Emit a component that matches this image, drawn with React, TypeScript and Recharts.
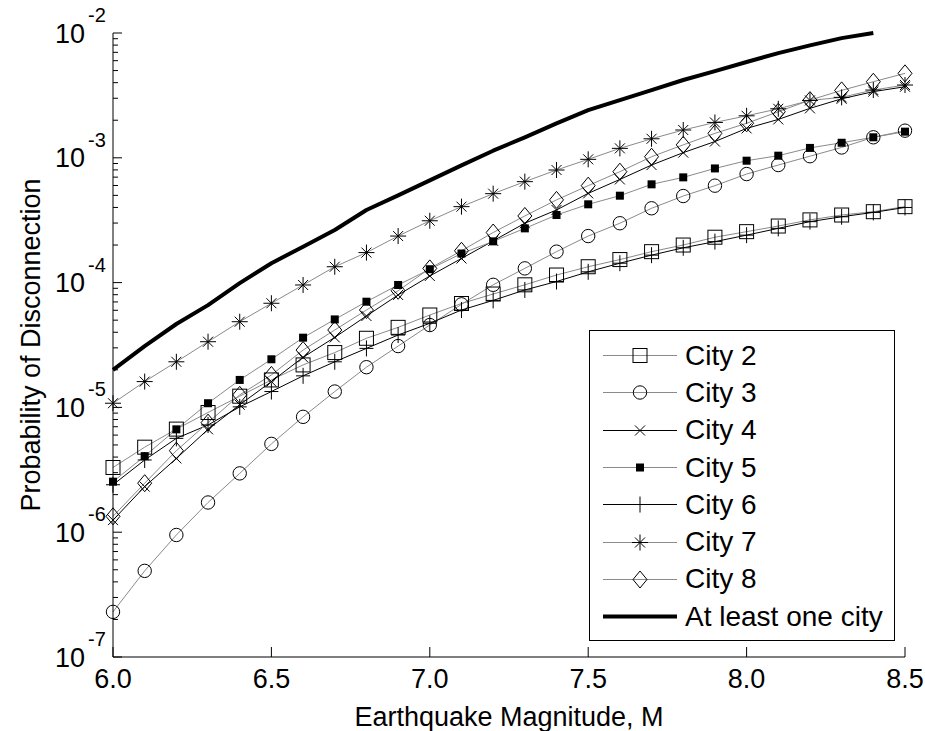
import React from 'react';
import { LineChart, Line, XAxis, YAxis, Legend } from 'recharts';

const FONT = '"Liberation Sans", Arial, sans-serif';

// magnitudes M along the x axis
const magnitudes = [
  6.0, 6.1, 6.2, 6.3, 6.4, 6.5, 6.6, 6.7, 6.8, 6.9, 7.0, 7.1, 7.2,
  7.3, 7.4, 7.5, 7.6, 7.7, 7.8, 7.9, 8.0, 8.1, 8.2, 8.3, 8.4, 8.5,
];

const city2 = [
  3.3e-6, 4.8e-6, 6.7e-6, 9.1e-6, 1.23e-5, 1.66e-5, 2.19e-5, 2.75e-5, 3.58e-5, 4.38e-5, 5.5e-5, 6.8e-5, 8.1e-5,
  9.6e-5, 1.15e-4, 1.34e-4, 1.53e-4, 1.77e-4, 2.0e-4, 2.31e-4, 2.56e-4, 2.84e-4, 3.18e-4, 3.48e-4, 3.7e-4, 4.06e-4,
];
const city3 = [
  2.3e-7, 4.9e-7, 9.5e-7, 1.73e-6, 2.96e-6, 5.1e-6, 8.4e-6, 1.34e-5, 2.1e-5, 3.1e-5, 4.57e-5, 6.7e-5, 9.6e-5,
  1.3e-4, 1.77e-4, 2.36e-4, 2.99e-4, 3.94e-4, 4.94e-4, 5.98e-4, 7.41e-4, 8.75e-4, 1.03e-3, 1.21e-3, 1.46e-3, 1.65e-3,
];
const city4 = [
  1.25e-6, 2.32e-6, 3.9e-6, 6.67e-6, 1.05e-5, 1.61e-5, 2.52e-5, 3.64e-5, 5.4e-5, 7.96e-5, 1.13e-4, 1.56e-4, 2.16e-4,
  2.99e-4, 3.82e-4, 5.19e-4, 6.71e-4, 8.75e-4, 1.1e-3, 1.35e-3, 1.72e-3, 2.03e-3, 2.49e-3, 2.97e-3, 3.39e-3, 3.71e-3,
];
const city5 = [
  2.54e-6, 4.07e-6, 6.67e-6, 1.08e-5, 1.66e-5, 2.43e-5, 3.62e-5, 5.07e-5, 7.03e-5, 9.57e-5, 1.28e-4, 1.71e-4, 2.14e-4,
  2.72e-4, 3.48e-4, 4.24e-4, 4.97e-4, 6.13e-4, 6.97e-4, 8.22e-4, 9.48e-4, 1.04e-3, 1.2e-3, 1.32e-3, 1.46e-3, 1.62e-3,
];
const city6 = [
  2.4e-6, 3.79e-6, 5.65e-6, 7.23e-6, 1.01e-5, 1.34e-5, 1.79e-5, 2.32e-5, 2.97e-5, 3.8e-5, 4.72e-5, 6.03e-5, 7.2e-5,
  8.73e-5, 1.02e-4, 1.22e-4, 1.43e-4, 1.66e-4, 1.9e-4, 2.13e-4, 2.4e-4, 2.72e-4, 3.08e-4, 3.37e-4, 3.65e-4, 4.0e-4,
];
const city7 = [
  1.08e-5, 1.61e-5, 2.32e-5, 3.36e-5, 4.86e-5, 6.83e-5, 9.57e-5, 1.34e-4, 1.74e-4, 2.36e-4, 3.13e-4, 4.06e-4, 5.16e-4,
  6.44e-4, 7.98e-4, 9.72e-4, 1.19e-3, 1.42e-3, 1.67e-3, 1.92e-3, 2.17e-3, 2.47e-3, 2.88e-3, 3.05e-3, 3.49e-3, 3.83e-3,
];
const city8 = [
  1.34e-6, 2.47e-6, 4.5e-6, 7.55e-6, 1.26e-5, 1.82e-5, 2.88e-5, 4.17e-5, 6.03e-5, 8.6e-5, 1.3e-4, 1.8e-4, 2.52e-4,
  3.42e-4, 4.6e-4, 5.98e-4, 7.74e-4, 1.02e-3, 1.27e-3, 1.57e-3, 1.89e-3, 2.34e-3, 2.9e-3, 3.47e-3, 4.07e-3, 4.75e-3,
];
// system curve stops at M = 8.4
const atLeastOne = [
  2.0e-5, 3.1e-5, 4.66e-5, 6.6e-5, 9.9e-5, 1.43e-4, 1.94e-4, 2.64e-4, 3.82e-4, 5.0e-4, 6.6e-4, 8.7e-4, 1.14e-3,
  1.46e-3, 1.89e-3, 2.41e-3, 2.9e-3, 3.49e-3, 4.2e-3, 4.95e-3, 5.86e-3, 6.9e-3, 7.96e-3, 9.1e-3, 1.0e-2, null,
];

const xTicks = [6.0, 6.5, 7.0, 7.5, 8.0, 8.5];
const decades = [-7, -6, -5, -4, -3, -2];

// major ticks at each power of ten, minor ticks at 2..9 inside each decade
const yTicks: number[] = [];
decades.forEach((d) => {
  yTicks.push(Math.pow(10, d));
  if (d < -2) for (let k = 2; k <= 9; k++) yTicks.push(k * Math.pow(10, d));
});

type Shape = 'square' | 'circle' | 'cross' | 'filledSquare' | 'plus' | 'asterisk' | 'diamond' | 'none';

interface Series {
  key: string;
  name: string;
  values: (number | null)[];
  stroke: string;
  width: number;
  shape: Shape;
}

const GRAY = '#8a8a8a';

const series: Series[] = [
  { key: 'city2', name: 'City 2', values: city2, stroke: GRAY, width: 1, shape: 'square' },
  { key: 'city3', name: 'City 3', values: city3, stroke: GRAY, width: 1, shape: 'circle' },
  { key: 'city4', name: 'City 4', values: city4, stroke: '#000', width: 1, shape: 'cross' },
  { key: 'city5', name: 'City 5', values: city5, stroke: GRAY, width: 1, shape: 'filledSquare' },
  { key: 'city6', name: 'City 6', values: city6, stroke: '#000', width: 1, shape: 'plus' },
  { key: 'city7', name: 'City 7', values: city7, stroke: GRAY, width: 1, shape: 'asterisk' },
  { key: 'city8', name: 'City 8', values: city8, stroke: GRAY, width: 1, shape: 'diamond' },
  { key: 'any', name: 'At least one city', values: atLeastOne, stroke: '#000', width: 4, shape: 'none' },
];

const data = magnitudes.map((m, i) => {
  const row: Record<string, number | null> = { m };
  series.forEach((s) => {
    row[s.key] = s.values[i] ?? null;
  });
  return row;
});

const Marker = ({ shape, cx, cy }: { shape: Shape; cx: number; cy: number }) => {
  const line = { stroke: '#000', strokeWidth: 1, fill: 'none' };
  switch (shape) {
    case 'square':
      return <rect x={cx - 7} y={cy - 7} width={14} height={14} {...line} />;
    case 'circle':
      return <circle cx={cx} cy={cy} r={6.7} {...line} />;
    case 'cross':
      return <path d={`M${cx - 5},${cy - 5}L${cx + 5},${cy + 5}M${cx - 5},${cy + 5}L${cx + 5},${cy - 5}`} {...line} />;
    case 'filledSquare':
      return <rect x={cx - 4} y={cy - 4} width={8} height={8} fill="#000" />;
    case 'plus':
      return <path d={`M${cx - 7},${cy}L${cx + 7},${cy}M${cx},${cy - 8}L${cx},${cy + 8}`} {...line} />;
    case 'asterisk':
      return (
        <path
          d={`M${cx - 8},${cy}L${cx + 8},${cy}M${cx},${cy - 8}L${cx},${cy + 8}` +
            `M${cx - 5},${cy - 5}L${cx + 5},${cy + 5}M${cx - 5},${cy + 5}L${cx + 5},${cy - 5}`}
          {...line}
        />
      );
    case 'diamond':
      return <path d={`M${cx},${cy - 8.5}L${cx + 7},${cy}L${cx},${cy + 8.5}L${cx - 7},${cy}Z`} {...line} />;
    default:
      return null;
  }
};

const dotFor = (s: Series) => (p: any) => {
  const k = `${s.key}-${p.index}`;
  if (s.shape === 'none' || p.cx == null || p.cy == null || p.value == null) return <g key={k} />;
  return (
    <g key={k}>
      <Marker shape={s.shape} cx={p.cx} cy={p.cy} />
    </g>
  );
};

const YTick = ({ x, y, payload }: any) => {
  const lg = Math.log10(payload.value);
  const exp = Math.round(lg);
  const major = Math.abs(lg - exp) < 1e-6;
  return (
    <g>
      <line x1={x} x2={x + (major ? 9 : 5)} y1={y} y2={y} stroke="#000" />
      {major && (
        <>
          <text x={x - 28} y={y + 9.5} textAnchor="end" fontSize={27} fill="#000">
            10
          </text>
          <text x={x - 25} y={y - 11} fontSize={20} fill="#000">
            {String(exp)}
          </text>
        </>
      )}
    </g>
  );
};

const XTick = ({ x, y, payload }: any) => (
  <g>
    <line x1={x} x2={x} y1={y} y2={y - 10} stroke="#000" />
    <text x={x} y={y + 31} textAnchor="middle" fontSize={27} fill="#000">
      {Number(payload.value).toFixed(1)}
    </text>
  </g>
);

// legend rows follow the series order, not the alphabetical payload order
const LegendBox = ({ payload }: any) => {
  const shown = new Set((payload || []).map((e: any) => e.dataKey));
  const rows = series.filter((s) => shown.has(s.key));
  return (
    <div
      style={{
        border: '1.5px solid #000',
        background: '#fff',
        boxSizing: 'border-box',
        width: 306,
        height: 311,
        padding: '6px 0',
        fontFamily: FONT,
      }}
    >
      {rows.map((s) => (
        <div key={s.key} style={{ display: 'flex', alignItems: 'center', height: 37.3 }}>
          <svg width={95} height={37} style={{ flex: 'none' }}>
            <line x1={13} x2={87} y1={18.5} y2={18.5} stroke={s.stroke} strokeWidth={s.width} />
            <Marker shape={s.shape} cx={50} cy={18.5} />
          </svg>
          <span style={{ fontSize: 28, color: '#000', whiteSpace: 'nowrap' }}>{s.name}</span>
        </div>
      ))}
    </div>
  );
};

export default function App() {
  return (
    <div style={{ position: 'absolute', left: 0, top: 0, width: 925, height: 731, background: '#fff', fontFamily: FONT }}>
      <LineChart width={925} height={731} data={data} margin={{ top: 33, right: 20, bottom: 0, left: 0 }}>
        <XAxis
          dataKey="m"
          type="number"
          domain={[6, 8.5]}
          ticks={xTicks}
          interval={0}
          height={74}
          tickSize={0}
          tickMargin={0}
          tickLine={false}
          tick={<XTick />}
          axisLine={{ stroke: '#000', strokeWidth: 1 }}
          label={{
            value: 'Earthquake Magnitude, M',
            position: 'insideBottom',
            offset: 5,
            style: { fontSize: 27, fill: '#000', fontFamily: FONT },
          }}
        />
        <YAxis
          type="number"
          scale="log"
          domain={[1e-7, 1e-2]}
          ticks={yTicks}
          interval={0}
          width={113}
          tickSize={0}
          tickMargin={0}
          tickLine={false}
          tick={<YTick />}
          axisLine={{ stroke: '#000', strokeWidth: 1 }}
          label={{
            value: 'Probability of Disconnection',
            angle: -90,
            position: 'insideLeft',
            offset: 30,
            style: { fontSize: 27, fill: '#000', textAnchor: 'middle', fontFamily: FONT },
          }}
        />
        <Legend
          layout="horizontal"
          align="center"
          verticalAlign="middle"
          content={<LegendBox />}
          wrapperStyle={{ left: 589, top: 330, width: 306, height: 311, right: 'auto', bottom: 'auto' }}
        />
        {series.map((s) => (
          <Line
            key={s.key}
            type="linear"
            dataKey={s.key}
            name={s.name}
            stroke={s.stroke}
            strokeWidth={s.width}
            strokeLinejoin="round"
            dot={dotFor(s)}
            activeDot={false}
            isAnimationActive={false}
          />
        ))}
      </LineChart>
    </div>
  );
}
